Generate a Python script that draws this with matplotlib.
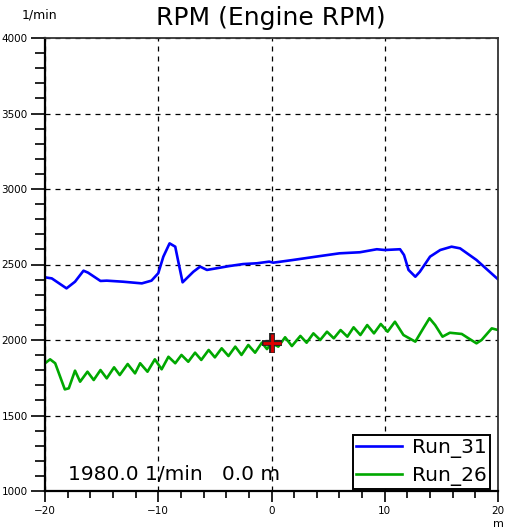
import matplotlib
matplotlib.use("Agg")
import matplotlib.pyplot as plt
from matplotlib.ticker import MultipleLocator
import numpy as np

# Distance (m) and engine speed (1/min) for the two runs
run31_x = [-20.0, -19.4, -18.1, -17.35, -16.6, -16.2, -15.1, -14.55, -13.1, -11.45,
           -10.6, -10.0, -9.55, -9.0, -8.5, -8.2, -7.85, -6.9, -6.3, -5.7,
           -4.85, -3.7, -2.5, -1.3, -0.2, 0.15, 1.9, 4.3, 6.0, 7.8,
           9.3, 10.0, 11.35, 11.7, 12.1, 12.7, 13.1, 14.0, 14.9, 15.9,
           16.65, 18.1, 20.0]
run31_y = [2415, 2408, 2342, 2386, 2459, 2446, 2391, 2393, 2386, 2375,
           2393, 2442, 2552, 2640, 2618, 2508, 2382, 2452, 2486, 2464,
           2475, 2490, 2503, 2508, 2519, 2512, 2530, 2556, 2574, 2581,
           2601, 2596, 2601, 2563, 2464, 2419, 2452, 2552, 2596, 2618,
           2607, 2530, 2402]

run26_x = [-20.0, -19.55, -19.1, -18.25, -17.9, -17.35, -16.9, -16.25, -15.7, -15.1,
           -14.55, -13.9, -13.4, -12.7, -12.05, -11.6, -10.95, -10.3, -9.7, -9.1,
           -8.5, -7.95, -7.35, -6.75, -6.2, -5.55, -5.0, -4.4, -3.8, -3.2,
           -2.65, -2.05, -1.45, -0.85, -0.4, 0.0, 0.6, 1.2, 1.8, 2.55,
           3.1, 3.7, 4.3, 4.9, 5.5, 6.1, 6.7, 7.25, 7.85, 8.45,
           9.05, 9.65, 10.25, 10.9, 11.65, 12.7, 13.4, 13.95, 14.45, 15.1,
           15.75, 16.8, 17.4, 18.1, 18.55, 19.45, 20.0]
run26_y = [1846, 1872, 1846, 1673, 1680, 1797, 1724, 1790, 1735, 1801,
           1746, 1819, 1768, 1841, 1779, 1846, 1790, 1872, 1806, 1889,
           1846, 1901, 1856, 1916, 1868, 1934, 1885, 1945, 1894, 1956,
           1901, 1967, 1916, 1982, 1940, 1980, 1956, 2018, 1960, 2027,
           1982, 2044, 2000, 2055, 2011, 2066, 2022, 2084, 2033, 2099,
           2044, 2106, 2055, 2121, 2033, 1989, 2077, 2144, 2099, 2022,
           2048, 2040, 2011, 1978, 2000, 2077, 2066]

cursor_x = 0.0
cursor_y = 1980.0

W, H = 506, 528
fig = plt.figure(figsize=(W / 100, H / 100), dpi=100)
ax = fig.add_axes([45 / W, 1 - 491 / H, 453 / W, 453 / H])

ax.plot(run31_x, run31_y, color="#0000ff", lw=1.9, label="Run_31", solid_joinstyle="round")
ax.plot(run26_x, run26_y, color="#00a800", lw=1.9, label="Run_26", solid_joinstyle="round")

# Cursor marker
ax.plot([cursor_x], [cursor_y], marker="+", ms=14, mew=4.2, color="#222222", zorder=5)
ax.plot([cursor_x], [cursor_y], marker="+", ms=13, mew=2.0, color="#e00000", zorder=6)

ax.set_xlim(-20, 20)
ax.set_ylim(1000, 4000)
ax.xaxis.set_major_locator(MultipleLocator(10))
ax.xaxis.set_minor_locator(MultipleLocator(2))
ax.yaxis.set_major_locator(MultipleLocator(500))
ax.yaxis.set_minor_locator(MultipleLocator(100))

ax.grid(True, which="major", color="black", linestyle=(0, (4, 4)), linewidth=0.9)
ax.set_axisbelow(True)

ax.tick_params(axis="y", which="major", direction="out", length=10, width=1.2,
               labelsize=7.5, pad=2.5, colors="black")
ax.tick_params(axis="y", which="minor", direction="out", length=7, width=1.2)
ax.tick_params(axis="x", which="major", direction="out", length=8, width=1.2,
               labelsize=7.5, pad=3, colors="black")
ax.tick_params(axis="x", which="minor", direction="out", length=5, width=1.2)

for side in ("left", "bottom"):
    ax.spines[side].set_linewidth(1.6)
    ax.spines[side].set_color("black")
for side in ("top", "right"):
    ax.spines[side].set_linewidth(1.3)
    ax.spines[side].set_color("#333333")

fig.text(271 / W, 1 - 18 / H, "RPM (Engine RPM)", ha="center", va="center", fontsize=18)
fig.text(22 / W, 1 - 15 / H, "1/min", ha="left", va="center", fontsize=9)
fig.text(498 / W, 1 - 524 / H, "m", ha="center", va="center", fontsize=8)

ax.text(68 / W, 1 - 474 / H, "1980.0 1/min   0.0 m", transform=fig.transFigure,
        ha="left", va="center", fontsize=14.5)

leg = ax.legend(loc="lower right", fontsize=14.5, frameon=True, fancybox=False,
                borderpad=0.15, handlelength=2.3, handletextpad=0.5, labelspacing=0.4,
                borderaxespad=0.0, bbox_to_anchor=(1 - 8 / 453, 2 / 453))
leg.get_frame().set_edgecolor("black")
leg.get_frame().set_linewidth(1.4)
leg.get_frame().set_alpha(1)

fig.savefig("out.png", dpi=100)
